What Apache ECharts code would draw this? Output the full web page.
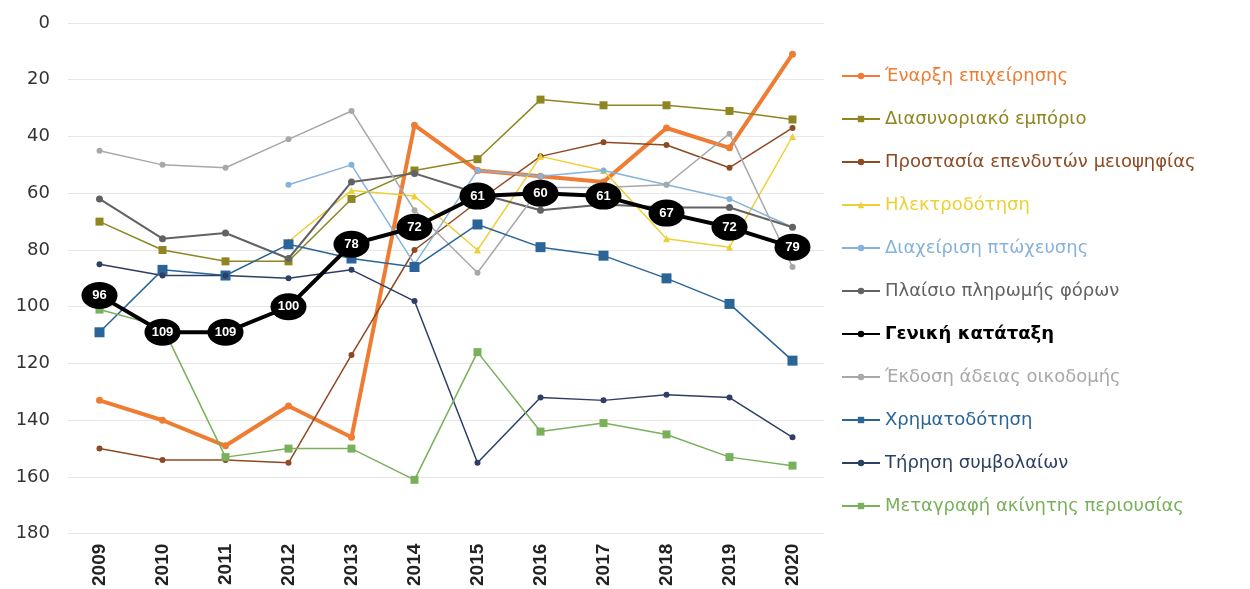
<!DOCTYPE html>
<html>
<head>
<meta charset="utf-8">
<script src="https://cdn.jsdelivr.net/npm/echarts@6/dist/echarts.min.js"></script>
<style>
  html, body { margin: 0; padding: 0; background: #fff; }
  #main { width: 1250px; height: 589px; }
</style>
</head>
<body>
<div id="main"></div>
<script>
  // κατηγορίες (έτη)
  var years = ['2009','2010','2011','2012','2013','2014','2015','2016','2017','2018','2019','2020'];

  // τιμές κατάταξης ανά δείκτη
  var enarxi      = [133, 140, 149, 135, 146, 36, 52, 54, 56, 37, 44, 11];
  var diasynoriako = [70, 80, 84, 84, 62, 52, 48, 27, 29, 29, 31, 34];
  var prostasia   = [150, 154, 154, 155, 117, 80, 63, 47, 42, 43, 51, 37];
  var ilektro     = [null, null, null, 77, 59, 61, 80, 47, 52, 76, 79, 40];
  var ptoxeusi    = [null, null, null, 57, 50, 85, 52, 54, 52, 57, 62, 72];
  var foroi       = [62, 76, 74, 83, 56, 53, 60, 66, 64, 65, 65, 72];
  var geniki      = [96, 109, 109, 100, 78, 72, 61, 60, 61, 67, 72, 79];
  var adeia       = [45, 50, 51, 41, 31, 66, 88, 58, 58, 57, 39, 86];
  var xrimato     = [109, 87, 89, 78, 83, 86, 71, 79, 82, 90, 99, 119];
  var symvolaia   = [85, 89, 89, 90, 87, 98, 155, 132, 133, 131, 132, 146];
  var metagrafi   = [101, 107, 153, 150, 150, 161, 116, 144, 141, 145, 153, 156];

  var yTicks = [0, 20, 40, 60, 80, 100, 120, 140, 160, 180];

  var myChart = echarts.init(document.getElementById('main'));

  function lineSeries(name, data, color, width, symbol, size) {
    return {
      name: name,
      type: 'line',
      data: data,
      connectNulls: false,
      symbol: symbol,
      symbolSize: size,
      lineStyle: {color: color, width: width},
      itemStyle: {color: color},
      emphasis: {disabled: true}
    };
  }

  var series = [
    lineSeries('Έναρξη επιχείρησης', enarxi, '#EE7D33', 4, 'circle', 7),
    lineSeries('Διασυνοριακό εμπόριο', diasynoriako, '#8F8522', 1.5, 'rect', 8),
    lineSeries('Προστασία επενδυτών μειοψηφίας', prostasia, '#8E4A22', 1.5, 'circle', 6),
    lineSeries('Ηλεκτροδότηση', ilektro, '#EDD035', 1.5, 'triangle', 7),
    lineSeries('Διαχείριση πτώχευσης', ptoxeusi, '#86B3DA', 1.5, 'circle', 6),
    lineSeries('Πλαίσιο πληρωμής φόρων', foroi, '#626262', 2, 'circle', 7),
    {
      name: 'Γενική κατάταξη',
      type: 'line',
      data: geniki,
      z: 5,
      symbol: 'circle',
      symbolSize: [36, 27],
      lineStyle: {color: '#000', width: 4},
      itemStyle: {color: '#000'},
      label: {
        show: true,
        position: 'inside',
        color: '#fff',
        fontWeight: 'bold',
        fontSize: 13,
        fontFamily: 'Liberation Sans'
      },
      emphasis: {disabled: true}
    },
    lineSeries('Έκδοση άδειας οικοδομής', adeia, '#A8A8A8', 1.5, 'circle', 6),
    lineSeries('Χρηματοδότηση', xrimato, '#2B6598', 1.5, 'rect', 10),
    lineSeries('Τήρηση συμβολαίων', symvolaia, '#2D3F64', 1.5, 'circle', 6),
    lineSeries('Μεταγραφή ακίνητης περιουσίας', metagrafi, '#79B05A', 1.5, 'rect', 8)
  ];

  var legendData = series.map(function (s) {
    return {
      name: s.name,
      textStyle: {
        color: s.lineStyle.color,
        fontWeight: s.name === 'Γενική κατάταξη' ? 'bold' : 'normal'
      }
    };
  });

  var option = {
    backgroundColor: '#fff',
    animation: false,
    grid: {left: 68, right: 426, top: 23, bottom: 54, containLabel: false},
    legend: {
      orient: 'vertical',
      left: 836,
      top: 62,
      itemWidth: 38,
      itemHeight: 8,
      itemGap: 25,
      textStyle: {fontSize: 18, lineHeight: 18, fontFamily: 'DejaVu Sans'},
      data: legendData
    },
    xAxis: {
      type: 'category',
      data: years,
      boundaryGap: true,
      axisLine: {show: false},
      axisTick: {show: false},
      axisLabel: {
        rotate: 90,
        margin: 10,
        fontSize: 19,
        fontWeight: 'bold',
        color: '#222',
        fontFamily: 'Liberation Sans'
      }
    },
    yAxis: {
      type: 'value',
      inverse: true,
      min: yTicks[0],
      max: yTicks[yTicks.length - 1],
      interval: 20,
      axisLine: {show: false},
      axisTick: {show: false},
      splitLine: {lineStyle: {color: '#e6e6e6', width: 1}},
      axisLabel: {
        margin: 18,
        fontSize: 18,
        color: '#333',
        fontFamily: 'DejaVu Sans'
      }
    },
    series: series
  };

  myChart.setOption(option);
</script>
</body>
</html>
